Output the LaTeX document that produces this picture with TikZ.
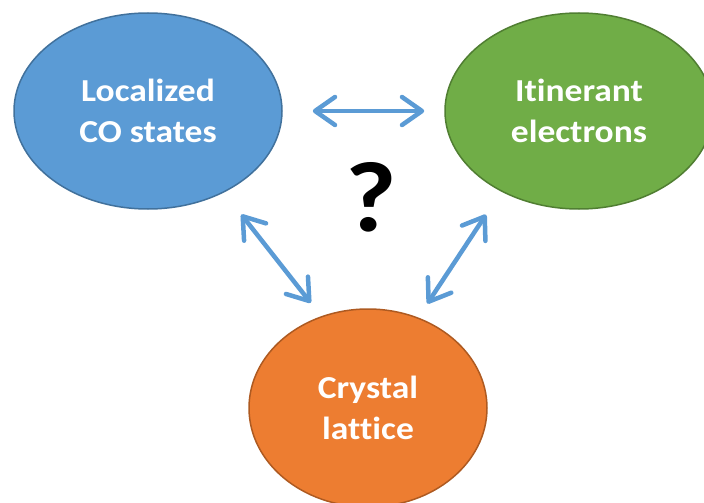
\documentclass[tikz,border=0pt]{standalone}
\usepackage{fontspec}
\setmainfont{Carlito}[Ligatures=NoCommon,FakeStretch=1.11]
\usetikzlibrary{shapes.geometric,arrows.meta}
\definecolor{coblue}{HTML}{5B9BD5}
\definecolor{coblueline}{HTML}{41719C}
\definecolor{cogreen}{HTML}{70AD47}
\definecolor{cogreenline}{HTML}{507E32}
\definecolor{coorange}{HTML}{ED7D31}
\definecolor{coorangeline}{HTML}{AE5A21}
\begin{document}
\begin{tikzpicture}[x=1pt,y=1pt,line join=round,
	blob/.style={ellipse,line width=1.5pt,text=white,align=center,inner sep=0pt,
		font=\fontsize{32}{41}\selectfont\bfseries},
	link/.style={coblue,line width=4.5pt,line cap=round,
		{Straight Barb[length=20pt,width=28pt,round]}-{Straight Barb[length=20pt,width=28pt,round]}}]
	\useasboundingbox (0,0) rectangle (704,-503);
	\clip (0,0) rectangle (704,-503);
	\node[blob,fill=coblue,draw=coblueline,minimum width=268pt,minimum height=196pt] (loc) at (148,-111) {Localized\\CO states};
	\node[blob,fill=cogreen,draw=cogreenline,minimum width=268pt,minimum height=196pt] (itin) at (579,-111) {Itinerant\\electrons};
	\node[blob,fill=coorange,draw=coorangeline,minimum width=238pt,minimum height=198pt] (latt) at (368,-408) {Crystal\\lattice};
	\node[font=\fontsize{100}{100}\selectfont\bfseries] (q) at (371,-197) {?};
	% couplings
	\draw[link,shorten <=30pt,shorten >=20pt] (loc.east)--(itin.west);
	\draw[link,shorten <=28pt,shorten >=17pt] (loc.-47.7)--(latt.117.7);
	\draw[link,shorten <=27.6pt,shorten >=16.6pt] (itin.-134.2)--(latt.61.6);
\end{tikzpicture}
\end{document}
